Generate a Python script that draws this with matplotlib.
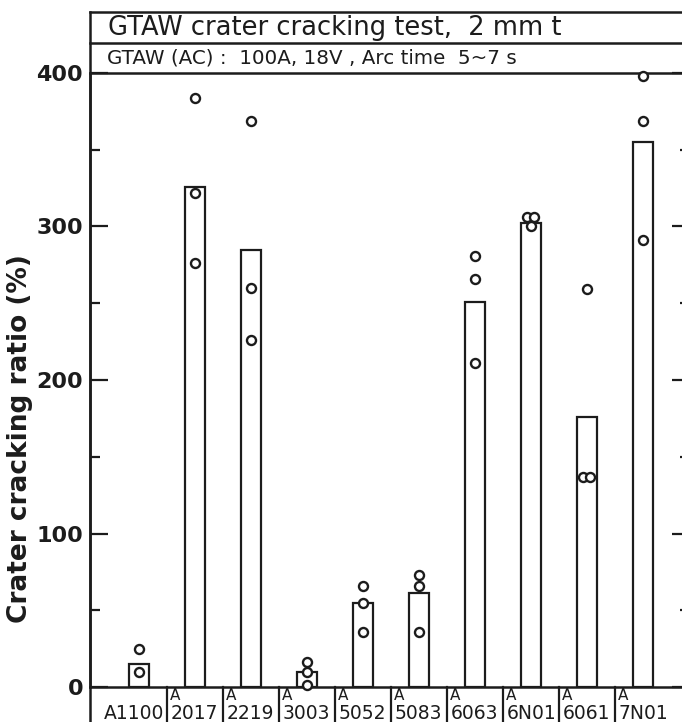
import matplotlib
matplotlib.use("Agg")
import matplotlib.pyplot as plt
from matplotlib.lines import Line2D

# ---------------- data ----------------
categories = ['A1100', '2017', '2219', '3003', '5052', '5083', '6063', '6N01', '6061', '7N01']
label_prefix = ['', 'A', 'A', 'A', 'A', 'A', 'A', 'A', 'A', 'A']
bar_values = [15, 326, 285, 10, 55, 61, 251, 302, 176, 355]
point_values = [
    [25, 10],
    [384, 322, 276],
    [369, 260, 226],
    [16, 10, 1],
    [66, 55, 36],
    [73, 66, 36],
    [281, 266, 211],
    [306, 306, 300],
    [259, 137, 137],
    [398, 369, 291],
]
major_ticks = [0, 100, 200, 300, 400]
minor_ticks = [50, 150, 250, 350]
title1 = 'GTAW crater cracking test,  2 mm t'
title2 = 'GTAW (AC) :  100A, 18V , Arc time  5~7 s'
ylabel = 'Crater cracking ratio (%)'

INK = '#1c1c1c'
plt.rcParams['font.family'] = ['DejaVu Sans']

fig = plt.figure(figsize=(6.82, 7.22), dpi=100)
fig.patch.set_facecolor('white')
ax = fig.add_axes([90 / 682, 35 / 722, 600 / 682, 614 / 722])
ax.set_xlim(-0.875, 9.84)
ax.set_ylim(0, 400)

x = list(range(len(categories)))
ax.bar(x, bar_values, width=0.35, facecolor='white', edgecolor=INK,
       linewidth=1.6, zorder=2)

# points (identical values in one category are placed side by side)
for i, vals in enumerate(point_values):
    groups = {}
    for v in vals:
        groups.setdefault(v, 0)
        groups[v] += 1
    for v, n in groups.items():
        for k in range(n):
            off = (k - (n - 1) / 2) * 0.125
            ax.plot(i + off, v, 'o', mfc='white', mec=INK, ms=6.5, mew=1.7,
                    zorder=3, clip_on=False)

for s in ['left', 'top', 'bottom', 'right']:
    ax.spines[s].set_linewidth(1.8)
    ax.spines[s].set_color(INK)

ax.set_yticks(major_ticks)
ax.set_yticks(minor_ticks, minor=True)
ax.set_xticks([])
ax.tick_params(axis='y', which='major', direction='in', length=13, width=1.6,
               left=True, right=True, labelsize=16, pad=5, colors=INK)
ax.tick_params(axis='y', which='minor', direction='in', length=7, width=1.6,
               left=True, right=True, colors=INK)
for t in ax.get_yticklabels():
    t.set_fontweight('bold')

# header box
y_top = (687 - 12) / 614
y_mid = (687 - 43) / 614
y_bot = (687 - 722) / 614
for yy in (y_top, y_mid):
    ax.add_line(Line2D([0, 1.05], [yy, yy], transform=ax.transAxes,
                       color=INK, lw=1.8, clip_on=False))
ax.add_line(Line2D([0, 0], [y_bot, y_top], transform=ax.transAxes,
                   color=INK, lw=1.8, clip_on=False))
ax.text(18 / 600, (687 - 28) / 614, title1, transform=ax.transAxes,
        fontsize=18.5, va='center', ha='left', color=INK)
ax.text(17 / 600, (687 - 58) / 614, title2, transform=ax.transAxes,
        fontsize=14.3, va='center', ha='left', color=INK)

# category label row
tr = ax.get_xaxis_transform()
for i in range(len(categories) - 1):
    ax.add_line(Line2D([i + 0.5, i + 0.5], [0, y_bot], transform=tr,
                       color=INK, lw=1.6, clip_on=False))
for i, (lab, pre) in enumerate(zip(categories, label_prefix)):
    if pre:
        ax.text(i - 0.5 + 0.06, (687 - 719) / 614, lab, transform=tr,
                fontsize=13.5, ha='left', va='baseline', color=INK)
        ax.text(i - 0.5 + 0.06, (687 - 695) / 614, pre, transform=tr,
                fontsize=11, ha='left', va='center', color=INK)
    else:
        ax.text(i - 0.09, (687 - 719) / 614, lab, transform=tr,
                fontsize=13.5, ha='center', va='baseline', color=INK)

fig.text(20 / 682, 1 - 439 / 722, ylabel, rotation=90, ha='center',
         va='center', fontsize=19, fontweight='bold', color=INK)

fig.savefig('out.png', dpi=100, facecolor='white')
